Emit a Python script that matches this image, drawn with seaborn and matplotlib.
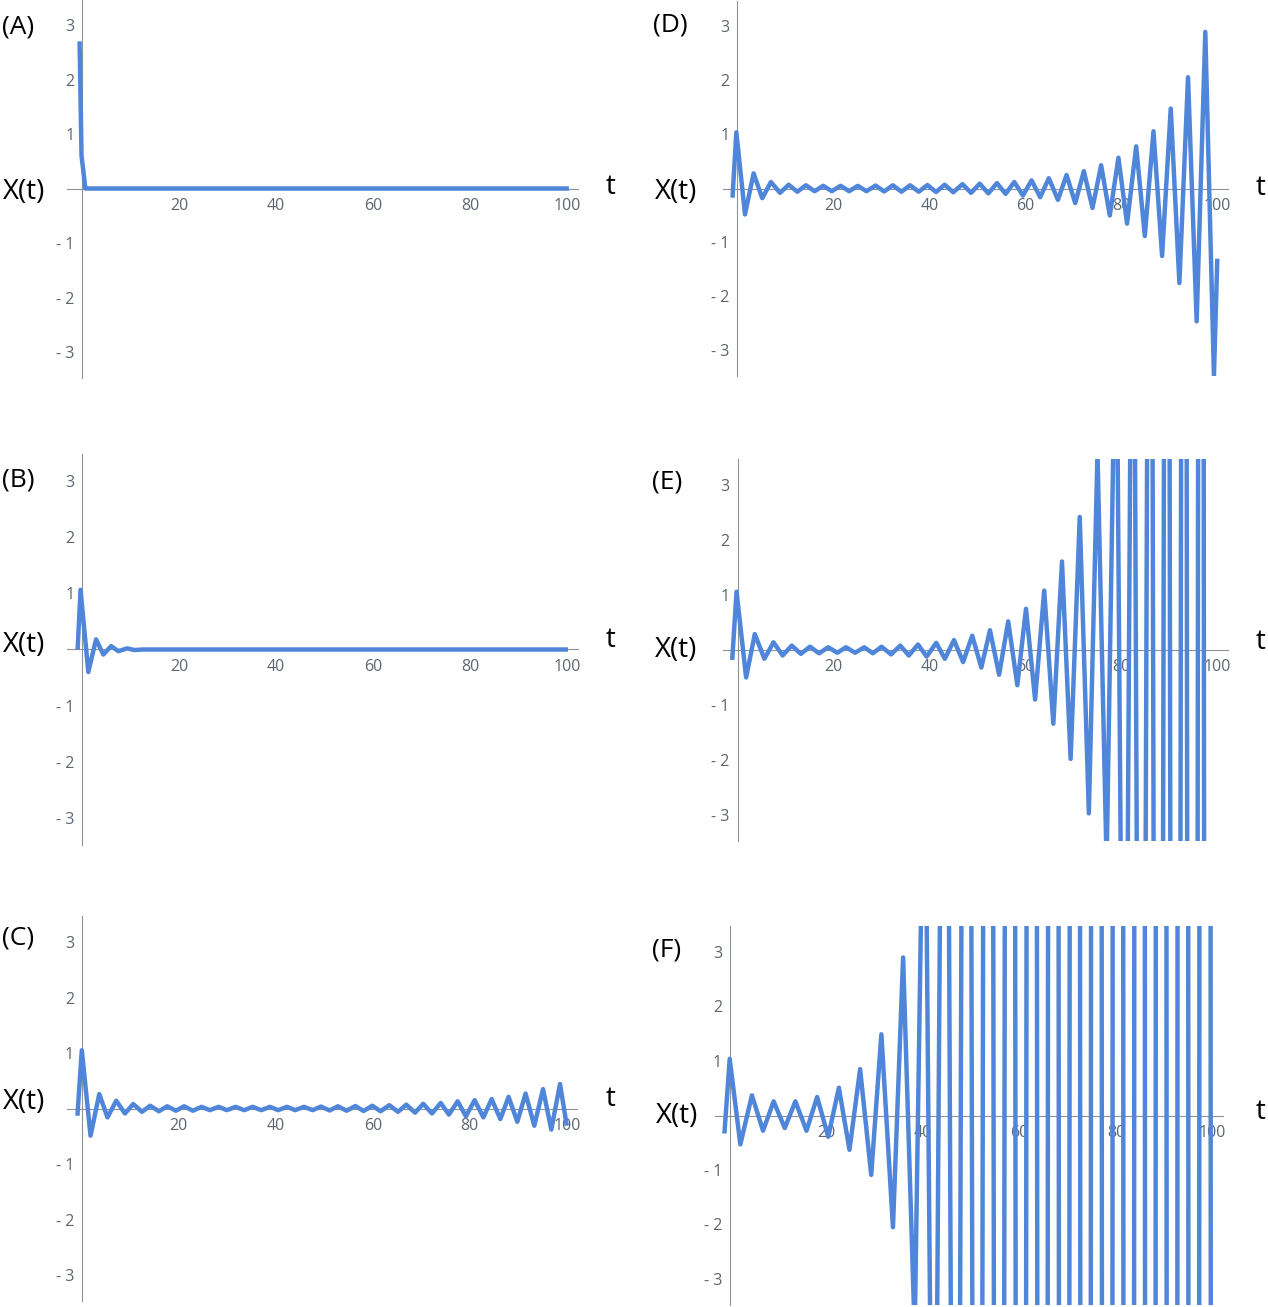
import matplotlib
matplotlib.use('Agg')
import matplotlib.pyplot as plt
from matplotlib.ticker import MultipleLocator
import seaborn as sns

W, H = 1268, 1307
BLUE = '#4f86d9'
AXIS = '#8c9296'
TICKTXT = '#5b6670'

# extrema of each trace (t, X(t))
a_t = [-0.5, -0.1, 0.7, 100.4]
a_x = [2.7, 0.6, 0.0, 0.0]

b_t = [-0.9, -0.3, 1.3, 2.9, 4.4, 6.0, 7.5, 9.3, 10.8, 12.5, 100.2]
b_x = [0.0, 1.06, -0.4, 0.18, -0.09, 0.06, -0.03, 0.02, -0.01, 0.0, 0.0]

c_t = [-0.9, 0.0, 1.8, 3.6, 5.3, 7.1, 8.9, 10.6, 12.4, 14.1, 15.9, 17.6, 19.4,
       21.1, 22.9, 24.7, 26.4, 28.2, 29.9, 31.7, 33.5, 35.2, 37.0, 38.8, 40.5,
       42.3, 44.0, 45.8, 47.6, 49.3, 51.1, 52.8, 54.6, 56.4, 58.1, 59.9, 61.6,
       63.4, 65.2, 66.9, 68.7, 70.4, 72.2, 74.0, 75.7, 77.5, 79.2, 81.0, 82.8,
       84.5, 86.3, 88.0, 89.8, 91.5, 93.3, 95.1, 96.8, 98.6, 100.0]
c_x = [-0.13, 1.05, -0.49, 0.26, -0.16, 0.14, -0.09, 0.08, -0.06, 0.05, -0.05,
       0.04, -0.04, 0.04, -0.04, 0.03, -0.03, 0.03, -0.03, 0.03, -0.03, 0.03,
       -0.03, 0.03, -0.03, 0.03, -0.03, 0.03, -0.03, 0.035, -0.035, 0.04, -0.04,
       0.045, -0.045, 0.05, -0.05, 0.06, -0.06, 0.07, -0.075, 0.085, -0.09, 0.1,
       -0.11, 0.13, -0.14, 0.15, -0.16, 0.17, -0.19, 0.21, -0.24, 0.27, -0.31,
       0.35, -0.38, 0.44, -0.31]

d_t = [-1.0, -0.2, 1.6, 3.4, 5.2, 7.0, 8.9, 10.7, 12.5, 14.3, 16.1, 17.9, 19.7,
       21.5, 23.3, 25.1, 26.9, 28.8, 30.6, 32.4, 34.2, 36.0, 37.8, 39.6, 41.4,
       43.2, 45.0, 46.9, 48.7, 50.5, 52.3, 54.1, 55.9, 57.7, 59.5, 61.3, 63.1,
       64.9, 66.8, 68.6, 70.4, 72.2, 74.0, 75.8, 77.6, 79.4, 81.2, 83.1, 84.9,
       86.7, 88.5, 90.3, 92.1, 93.9, 95.7, 97.5, 99.3, 100.0]
d_x = [-0.17, 1.04, -0.48, 0.28, -0.18, 0.12, -0.08, 0.07, -0.06, 0.06, -0.05,
       0.05, -0.05, 0.05, -0.05, 0.05, -0.05, 0.055, -0.055, 0.06, -0.06, 0.06,
       -0.06, 0.065, -0.065, 0.07, -0.07, 0.08, -0.08, 0.09, -0.09, 0.1, -0.1,
       0.12, -0.13, 0.15, -0.16, 0.19, -0.21, 0.25, -0.27, 0.32, -0.36, 0.43,
       -0.5, 0.57, -0.65, 0.78, -0.88, 1.06, -1.25, 1.48, -1.75, 2.06, -2.46,
       2.9, -3.48, -1.3]

e_t = [-1.1, -0.2, 1.8, 3.6, 5.6, 7.5, 9.4, 11.3, 13.2, 15.1, 17.0, 18.9, 20.8,
       22.6, 24.5, 26.4, 28.2, 30.0, 32.0, 33.9, 35.7, 37.6, 39.4, 41.4, 43.2,
       45.1, 47.0, 48.9, 50.8, 52.6, 54.5, 56.4, 58.3, 60.1, 62.0, 63.9, 65.8,
       67.6, 69.4, 71.3, 73.2, 75.0, 76.9, 78.9, 80.65, 82.4, 84.2, 86.0, 87.75,
       89.5, 91.3, 93.05, 94.8, 96.6, 98.3, 100.0]
e_x = [-0.18, 1.06, -0.5, 0.29, -0.16, 0.14, -0.1, 0.08, -0.07, 0.06, -0.06,
       0.05, -0.05, 0.05, -0.05, 0.05, -0.06, 0.06, -0.08, 0.08, -0.1, 0.1,
       -0.12, 0.13, -0.16, 0.18, -0.22, 0.26, -0.32, 0.36, -0.45, 0.52, -0.64,
       0.75, -0.9, 1.08, -1.34, 1.61, -1.98, 2.42, -2.97, 3.6, -3.9, 7.0, -13.0,
       12.0, -24.0, 20.0, -40.0, 30.0, -60.0, 40.0, -80.0, 50.0, -100.0, -20.0]

f_t = [-1.1, 0.0, 2.2, 4.6, 6.9, 9.1, 11.4, 13.6, 15.9, 18.1, 20.4, 22.6, 24.8,
       27.0, 29.3, 31.4, 33.8, 35.9, 38.3, 40.35, 42.3, 44.65, 46.9, 49.15, 51.4,
       53.6, 55.85, 58.1, 60.35, 62.6, 64.8, 67.05, 69.3, 71.5, 73.7, 75.95,
       78.2, 80.4, 82.65, 84.9, 87.1, 89.35, 91.6, 93.85, 96.1, 98.4, 100.0]
f_x = [-0.33, 1.04, -0.53, 0.37, -0.28, 0.26, -0.23, 0.26, -0.28, 0.34, -0.39,
       0.51, -0.63, 0.85, -1.09, 1.49, -2.05, 2.9, -4.0, 8.0, -12.0, 18.0, -25.0,
       35.0, -45.0, 55.0, -65.0, 75.0, -85.0, 95.0, -105.0, 115.0, -125.0, 135.0,
       -145.0, 155.0, -165.0, 175.0, -185.0, 195.0, -205.0, 215.0, -225.0,
       235.0, -245.0, 255.0, -90.0]

x_major = [20, 40, 60, 80, 100]
y_major = [-3, -2, -1, 1, 2, 3]
y_labels = ['- 3', '- 2', '- 1', '1', '2', '3']

sns.set_theme(style='white')
plt.rcParams['font.family'] = ['Open Sans', 'DejaVu Sans']

fig = plt.figure(figsize=(W / 100, H / 100), dpi=100)

XLIM = (-3.0, 102.2)
YLIM = 3.47

# name, t, x, t=0 pixel, px per t, y=0 pixel, px per unit, label positions
panels = [
    ('(A)', a_t, a_x, 82.0, 4.85, 188.5, 54.5, (2, 27), (3, 192), (611, 187)),
    ('(B)', b_t, b_x, 82.0, 4.85, 649.5, 56.3, (2, 480), (3, 645), (611, 640)),
    ('(C)', c_t, c_x, 81.8, 4.85, 1108.5, 55.5, (2, 938), (3, 1102), (611, 1099)),
    ('(D)', d_t, d_x, 737.3, 4.8, 188.5, 54.0, (653, 25), (655, 192), (1261, 188)),
    ('(E)', e_t, e_x, 737.5, 4.8, 650.0, 55.0, (652, 482), (655, 650), (1261, 642)),
    ('(F)', f_t, f_x, 729.7, 4.83, 1115.5, 54.5, (652, 950), (656, 1116), (1261, 1112)),
]

for tag, t, x, t0, sx, y0, sy, tagpos, xlpos, tlpos in panels:
    left = t0 + XLIM[0] * sx
    width = (XLIM[1] - XLIM[0]) * sx
    top = y0 - YLIM * sy
    height = 2 * YLIM * sy
    ax = fig.add_axes([left / W, 1 - (top + height) / H, width / W, height / H])
    ax.patch.set_alpha(0)

    sns.lineplot(x=t, y=x, ax=ax, color=BLUE, linewidth=3.2, estimator=None,
                 sort=False, zorder=3)
    for ln in ax.lines:
        ln.set_solid_joinstyle('round')
        ln.set_solid_capstyle('butt')

    ax.set_xlim(*XLIM)
    ax.set_ylim(-YLIM, YLIM)
    ax.set_xlabel('')
    ax.set_ylabel('')

    for side in ('top', 'right'):
        ax.spines[side].set_visible(False)
    for side in ('left', 'bottom'):
        ax.spines[side].set_position(('data', 0))
        ax.spines[side].set_color(AXIS)
        ax.spines[side].set_linewidth(0.8)

    ax.set_xticks(x_major)
    ax.set_xticklabels([str(v) for v in x_major])
    ax.xaxis.set_minor_locator(MultipleLocator(5))
    ax.set_yticks(y_major)
    ax.set_yticklabels(y_labels)
    ax.yaxis.set_minor_locator(MultipleLocator(0.2))

    ax.tick_params(axis='x', which='major', direction='in', length=5, width=0.8,
                   color=AXIS, labelcolor=TICKTXT, labelsize=11.5, pad=6.5)
    ax.tick_params(axis='x', which='minor', direction='in', length=3, width=0.7,
                   color=AXIS)
    ax.tick_params(axis='y', which='major', direction='in', length=4, width=0.8,
                   color=AXIS, labelcolor=TICKTXT, labelsize=11.5, pad=5.5)
    ax.tick_params(axis='y', which='minor', direction='in', length=2.5, width=0.7,
                   color=AXIS)
    ax.grid(False)

    fig.text(tagpos[0] / W, 1 - tagpos[1] / H, tag, fontsize=19, color='black',
             ha='left', va='center')
    fig.text(xlpos[0] / W, 1 - xlpos[1] / H, 'X(t)', fontsize=20, color='black',
             ha='left', va='center')
    fig.text(tlpos[0] / W, 1 - tlpos[1] / H, 't', fontsize=20, color='black',
             ha='center', va='center')

fig.savefig('out.png', dpi=100)
